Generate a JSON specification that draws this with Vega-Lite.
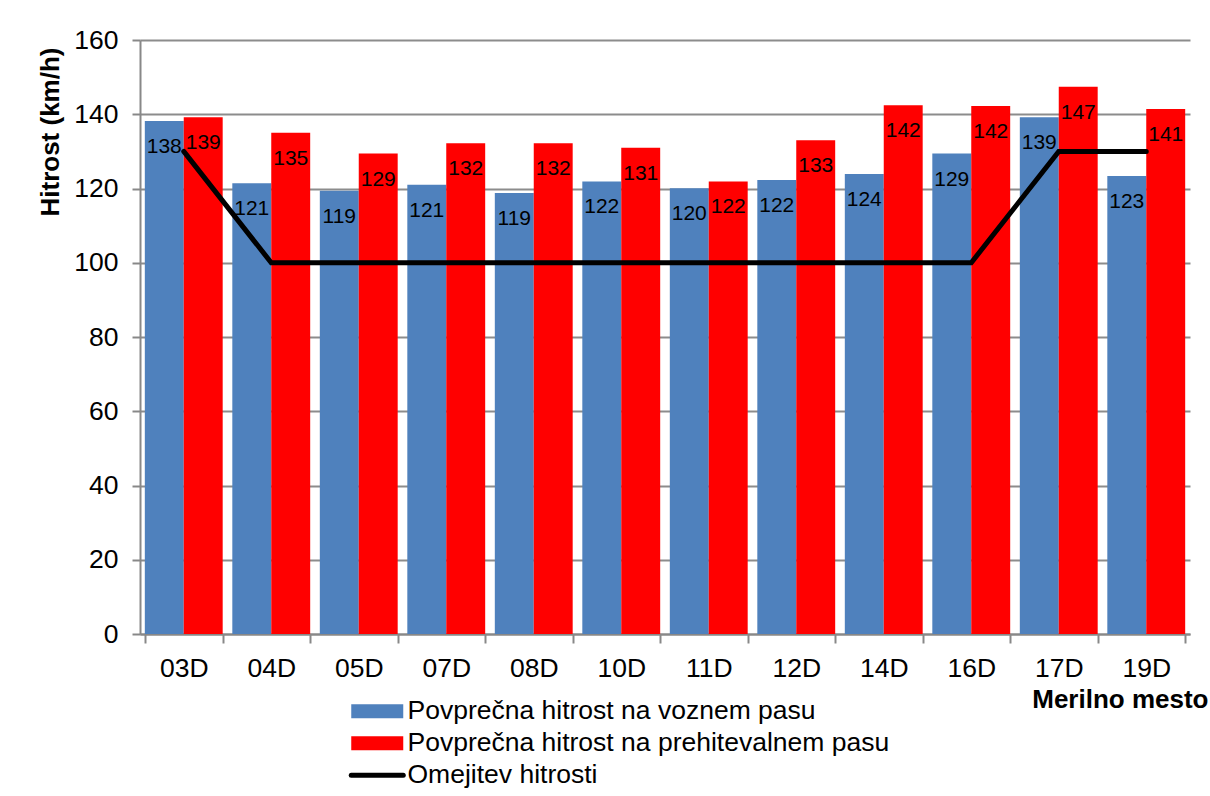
{
  "$schema": "https://vega.github.io/schema/vega-lite/v6.json",
  "width": 1050,
  "height": 594,
  "autosize": {"type": "none"},
  "padding": {"left": 140, "top": 40, "right": 20, "bottom": 162},
  "background": "white",
  "config": {
    "font": "Liberation Sans",
    "view": {"stroke": null},
    "axis": {"labelFont": "Liberation Sans", "titleFont": "Liberation Sans", "labelColor": "black", "titleColor": "black"}
  },
  "datasets": {
    "bars": [
      {"mesto": "03D", "serija": "Povprečna hitrost na voznem pasu", "hitrost": 138.2},
      {"mesto": "04D", "serija": "Povprečna hitrost na voznem pasu", "hitrost": 121.4},
      {"mesto": "05D", "serija": "Povprečna hitrost na voznem pasu", "hitrost": 119.4},
      {"mesto": "07D", "serija": "Povprečna hitrost na voznem pasu", "hitrost": 121.0},
      {"mesto": "08D", "serija": "Povprečna hitrost na voznem pasu", "hitrost": 118.8},
      {"mesto": "10D", "serija": "Povprečna hitrost na voznem pasu", "hitrost": 121.9},
      {"mesto": "11D", "serija": "Povprečna hitrost na voznem pasu", "hitrost": 120.1},
      {"mesto": "12D", "serija": "Povprečna hitrost na voznem pasu", "hitrost": 122.3},
      {"mesto": "14D", "serija": "Povprečna hitrost na voznem pasu", "hitrost": 123.9},
      {"mesto": "16D", "serija": "Povprečna hitrost na voznem pasu", "hitrost": 129.4},
      {"mesto": "17D", "serija": "Povprečna hitrost na voznem pasu", "hitrost": 139.2},
      {"mesto": "19D", "serija": "Povprečna hitrost na voznem pasu", "hitrost": 123.4},
      {"mesto": "03D", "serija": "Povprečna hitrost na prehitevalnem pasu", "hitrost": 139.2},
      {"mesto": "04D", "serija": "Povprečna hitrost na prehitevalnem pasu", "hitrost": 135.0},
      {"mesto": "05D", "serija": "Povprečna hitrost na prehitevalnem pasu", "hitrost": 129.4},
      {"mesto": "07D", "serija": "Povprečna hitrost na prehitevalnem pasu", "hitrost": 132.2},
      {"mesto": "08D", "serija": "Povprečna hitrost na prehitevalnem pasu", "hitrost": 132.2},
      {"mesto": "10D", "serija": "Povprečna hitrost na prehitevalnem pasu", "hitrost": 131.0},
      {"mesto": "11D", "serija": "Povprečna hitrost na prehitevalnem pasu", "hitrost": 121.9},
      {"mesto": "12D", "serija": "Povprečna hitrost na prehitevalnem pasu", "hitrost": 133.0},
      {"mesto": "14D", "serija": "Povprečna hitrost na prehitevalnem pasu", "hitrost": 142.4},
      {"mesto": "16D", "serija": "Povprečna hitrost na prehitevalnem pasu", "hitrost": 142.2},
      {"mesto": "17D", "serija": "Povprečna hitrost na prehitevalnem pasu", "hitrost": 147.4},
      {"mesto": "19D", "serija": "Povprečna hitrost na prehitevalnem pasu", "hitrost": 141.4}
    ],
    "limit": [
      {"mesto": "03D", "serija": "Omejitev hitrosti", "hitrost": 130},
      {"mesto": "04D", "serija": "Omejitev hitrosti", "hitrost": 100},
      {"mesto": "05D", "serija": "Omejitev hitrosti", "hitrost": 100},
      {"mesto": "07D", "serija": "Omejitev hitrosti", "hitrost": 100},
      {"mesto": "08D", "serija": "Omejitev hitrosti", "hitrost": 100},
      {"mesto": "10D", "serija": "Omejitev hitrosti", "hitrost": 100},
      {"mesto": "11D", "serija": "Omejitev hitrosti", "hitrost": 100},
      {"mesto": "12D", "serija": "Omejitev hitrosti", "hitrost": 100},
      {"mesto": "14D", "serija": "Omejitev hitrosti", "hitrost": 100},
      {"mesto": "16D", "serija": "Omejitev hitrosti", "hitrost": 100},
      {"mesto": "17D", "serija": "Omejitev hitrosti", "hitrost": 130},
      {"mesto": "19D", "serija": "Omejitev hitrosti", "hitrost": 130}
    ]
  },
  "encoding": {
    "x": {
      "field": "mesto", "type": "nominal", "sort": null,
      "scale": {"paddingInner": 0.11, "paddingOuter": 0.055},
      "axis": {
        "title": "Merilno mesto", "titleFontSize": 26, "titleFontWeight": "bold",
        "titleAnchor": "end", "titleAlign": "right", "titleBaseline": "alphabetic",
        "titleX": 1068, "titleY": 73,
        "labelAngle": 0, "labelFontSize": 26.5, "labelPadding": 12,
        "tickBand": "extent", "tickSize": 9, "tickColor": "#888888", "tickWidth": 2,
        "domainColor": "#888888", "domainWidth": 2, "grid": false
      }
    },
    "y": {
      "field": "hitrost", "type": "quantitative",
      "scale": {"domain": [0, 160], "nice": false},
      "axis": {
        "title": "Hitrost (km/h)", "titleFontSize": 26, "titleFontWeight": "bold",
        "titleAnchor": "end", "titlePadding": 10, "titleY": 7,
        "values": [0, 20, 40, 60, 80, 100, 120, 140, 160],
        "labelFontSize": 26.5, "labelPadding": 14,
        "tickSize": 8, "tickColor": "#888888", "tickWidth": 2,
        "domainColor": "#888888", "domainWidth": 2,
        "grid": true, "gridColor": "#8c8c8c", "gridWidth": 2
      }
    }
  },
  "layer": [
    {
      "data": {"name": "bars"},
      "mark": {"type": "bar"},
      "encoding": {
        "xOffset": {"field": "serija", "type": "nominal", "sort": null,
          "scale": {"domain": ["Povprečna hitrost na voznem pasu", "Povprečna hitrost na prehitevalnem pasu"], "paddingInner": 0}},
        "color": {
          "field": "serija", "type": "nominal",
          "scale": {
            "domain": ["Povprečna hitrost na voznem pasu", "Povprečna hitrost na prehitevalnem pasu", "Omejitev hitrosti"],
            "range": ["#4F81BD", "#FF0000", "#000000"]
          },
          "legend": {
            "title": null, "orient": "none", "legendX": 224, "legendY": 658,
            "direction": "vertical", "padding": 0,
            "labelFontSize": 26.5, "labelFont": "Liberation Sans", "labelColor": "black",
            "labelOffset": 17, "rowPadding": 5, "labelLimit": 800,
            "symbolSize": 2704,
            "encode": {
              "symbols": {
                "update": {
                  "shape": {"signal": "datum.value === 'Omejitev hitrosti' ? 'M-1,0L1,0' : 'M-1,-0.27L1,-0.27L1,0.27L-1,0.27Z'"},
                  "fill": {"signal": "datum.value === 'Omejitev hitrosti' ? 'transparent' : (datum.value === 'Povprečna hitrost na voznem pasu' ? '#4F81BD' : '#FF0000')"},
                  "stroke": {"signal": "datum.value === 'Omejitev hitrosti' ? '#000000' : 'transparent'"},
                  "strokeWidth": {"signal": "datum.value === 'Omejitev hitrosti' ? 5 : 0"},
                  "strokeCap": {"value": "round"},
                  "opacity": {"value": 1}
                }
              }
            }
          }
        }
      }
    },
    {
      "data": {"name": "bars"},
      "mark": {"type": "text", "baseline": "alphabetic", "dy": 32, "fontSize": 21, "color": "black", "font": "Liberation Sans"},
      "encoding": {
        "xOffset": {"field": "serija", "type": "nominal", "sort": null},
        "text": {"field": "hitrost", "type": "quantitative", "format": ".0f"}
      }
    },
    {
      "data": {"name": "limit"},
      "mark": {"type": "line", "strokeWidth": 5, "strokeCap": "round", "strokeJoin": "miter"},
      "encoding": {
        "color": {"field": "serija", "type": "nominal"}
      }
    }
  ]
}
